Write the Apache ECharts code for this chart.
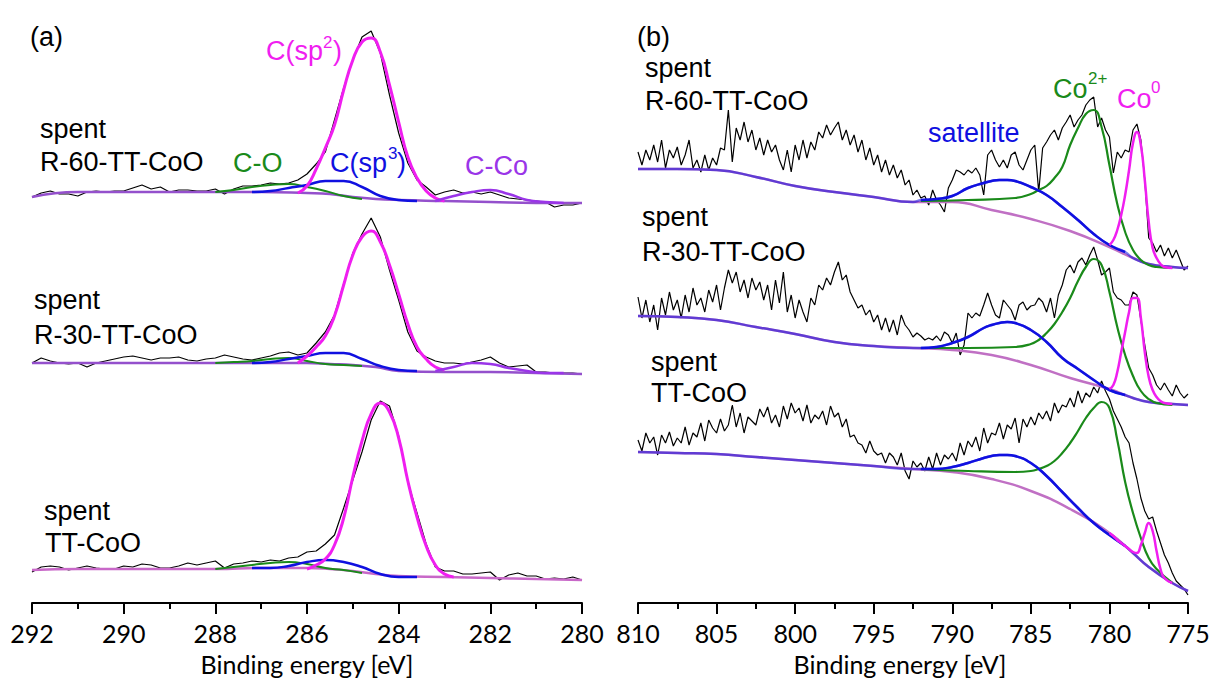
<!DOCTYPE html>
<html>
<head>
<meta charset="utf-8">
<script src="https://cdn.jsdelivr.net/npm/echarts@6/dist/echarts.min.js"></script>
<style>
  html, body { margin: 0; padding: 0; background: #fff; }
  #chart { width: 1216px; height: 687px; }
</style>
</head>
<body>
<div id="chart"></div>
<script>
// ---- (a) C 1s : measured spectra, 292 -> 280 eV, 0.2 eV steps ----
const c1sStart = 292, c1sStep = 0.2;
const c1sR60 = [406,410,412,409,409,407,411,412,411,412, 412,415,418,414,416,411,413,413,412,412,
  414,409,414,417,417,418,420,419,420,423, 429,439,451,483,515,543,566,572,550,508,
  470,440,423,416,408,411,413,410,411,409, 411,408,405,404,403,402,401,396,398,398,400];
const c1sR30 = [240,245,242,240,239,240,236,240,242,244, 246,247,245,243,245,245,246,243,242,244,
  245,248,246,244,243,245,247,250,251,248, 250,260,271,288,319,350,369,385,366,333,
  303,271,252,246,242,240,240,239,241,243, 246,240,236,237,238,231,231,230,230,230,229];
const c1sTT = [31,36,37,36,33,35,37,35,34,34, 37,36,39,38,35,35,37,40,38,40,
  42,35,39,40,42,41,43,42,45,46, 51,52,59,68,95,123,151,183,202,197,
  167,121,90,59,36,32,32,29,29,30, 31,23,28,30,27,27,24,25,24,26,23];

// background (Shirley) for C 1s
const c1sBgE = [292,291,290,289,288,287,286,285.5,285,284.5,284,283,282,281,280];
const c1sBgR60 = [406,411,411,411,411,411,410,409,406,404,403,402,401,400,400];
const c1sBgR30 = [240,240,240,240,240,240,240,239,238,236,232,231,231,230,229];
const c1sBgTT = [33,34,34,34,34,35,35,34,32,29,27,26,25,24,23];

// fitted components (component + background)
const sp2E = [286.2,286.0,285.8,285.6,285.4,285.2,285.0,284.8,284.6,284.4,284.2,284.0,283.8,283.6,283.4,283.2,283.0];
const sp2R60 = [410,417,434,455,478,513,543,561,565,551,518,481,446,425,412,405,402];
const sp2R30 = [240,247,256,267,287,318,348,366,372,361,338,309,279,256,244,236,233];
const sp2EtT = [286.0,285.8,285.6,285.4,285.2,285.0,284.8,284.6,284.4,284.2,284.0,283.8,283.6,283.4,283.2,283.0,282.8];
const sp2TT = [34,38,44,58,85,126,162,189,200,191,165,122,86,57,38,29,26];

const sp3E = [287.2,286.8,286.4,286.0,285.6,285.2,284.8,284.4,284.0,283.6];
const sp3R60 = [411,412,415,418,422,422,416,407,403,402];
const sp3R30 = [240,241,244,247,250,250,244,237,233,232];
const sp3TT = [35,35,37,41,43,41,36,29,26,26];

const coE = [288.0,287.6,287.2,286.8,286.4,286.0,285.6,285.2,284.8];
const coR60 = [411,413,416,418,419,416,412,407,404];
const coR30 = [240,241,242,244,245,242,239,238,237];
const coTT = [34,36,38,40,41,39,35,33,30];

const ccoE = [283.2,282.8,282.4,282.0,281.6,281.2,280.8,280.4];
const ccoR60 = [402,407,411,413,409,403,401,400];
const ccoR30 = [232,236,240,239,235,232,230,230];

// ---- (b) Co 2p : measured spectra, 810 -> 775 eV, 0.25 eV steps ----
const co2pStart = 810, co2pStep = 0.25;
const co2pR60 = [451,438,453,443,458,441,463,435,453,445, 456,438,448,463,435,443,431,448,433,445,
  438,455,453,493,441,475,463,481,461,473, 453,465,448,463,451,458,443,433,453,431,
  458,443,463,445,461,453,471,465,478,468, 475,481,463,473,458,468,451,463,443,455,
  438,448,431,443,428,438,425,433,418,423, 408,413,405,407,398,413,403,398,391,415,
  423,433,431,428,433,430,435,428,408,448, 453,443,436,443,435,448,451,438,433,443,
  453,458,411,455,461,468,473,463,475,481, 488,476,483,488,498,503,506,476,485,473,
  466,430,451,445,453,451,473,479,463,423, 365,360,351,358,347,355,345,353,343,333,337];
const co2pR30 = [306,285,303,281,298,273,305,288,311,293, 303,285,308,291,315,298,305,291,313,301,
  318,293,315,333,320,331,311,323,305,325, 313,321,303,318,293,323,300,331,291,308,
  285,303,291,281,305,298,318,313,325,318, 331,341,323,328,311,303,295,298,288,293,
  281,288,273,285,271,283,268,288,278,273, 266,270,267,263,265,263,267,262,271,268,
  260,270,248,258,290,285,290,287,298,310, 298,288,285,303,298,293,283,298,301,293,
  297,298,305,301,291,305,285,308,318,333, 338,330,341,345,338,348,356,343,328,331,
  335,311,305,303,298,298,311,308,283,258, 235,228,218,213,220,213,207,218,210,205,209];
const co2pTT = [163,152,170,160,166,148,168,160,171,157, 165,160,176,158,170,166,180,162,183,175,
  170,184,172,178,198,176,190,170,186,182, 178,194,186,196,180,188,176,197,184,200,
  190,195,182,198,180,188,184,192,178,197, 186,190,176,184,166,168,160,158,150,162,
  152,148,150,140,150,146,138,150,132,124, 142,136,140,132,146,134,150,138,148,144,
  150,142,160,148,162,156,166,152,175,160, 170,168,180,164,178,174,185,160,184,176,
  186,178,190,184,192,182,200,190,198,196, 205,196,212,200,210,206,216,210,222,212,
  204,192,184,176,166,160,140,124,105,92, 84,86,72,60,48,40,30,22,18,14,8];

const co2pBgE = [810,807.5,805,802.5,800,797.5,795,792.5,790,787.5,785,782.5,780,778.5,777.5,776,775];
const co2pBgR60 = [434,434,433,426,417,411,406,401,401,393,384,372,356,345,339,336,335];
const co2pBgR30 = [287,286,283,276,269,261,257,255,253,248,238,225,214,205,201,199,198];
const co2pBgTT = [151,150,149,146,143,140,137,134,131,124,112,94,70,50,36,20,12];

const satE = [792,791,790,789,788,787.5,787,786.5,786,785,784,783,782,781,780,779];
const satR60 = [403,404,407,415,420,422,423,423,422,416,408,396,383,369,358,351];
const satR30 = [255,256,260,266,275,278,280,281,280,273,261,245,234,223,213,208];
const satTT = [134,134,136,140,145,147,148,148,147,140,127,111,95,80,68,57];

const co2E = [792,789,786,785,784.5,784,783.5,783,782.5,782,781.5,781,780.5,780,779.5,779,778.5,778,777.5,777,776];
const co2R60 = [402,403,405,409,413,417,425,436,458,475,489,493,476,438,399,371,353,343,338,336,335];
const co2R30 = [255,255,256,259,263,270,279,291,305,322,336,344,338,311,276,248,227,212,204,200,198];
const co2TT = [134,132,131,132,134,137,142,150,160,172,185,195,201,195,163,121,90,65,45,34,20];

const co0E = [780,779.75,779.5,779.25,779,778.75,778.5,778.25,778,777.75,777.5,777.25,777,776.75,776.5,776];
const co0R60 = [358,363,373,388,408,433,460,471,458,423,381,355,345,339,336,335];
const co0R30 = [214,218,231,251,271,291,305,305,285,251,226,213,206,202,200,199];
const co0TT = [70,67,63,60,57,54,51,50,58,70,80,72,52,34,25,20];

const tickFont = "Lato";
const textFont = "Liberation Sans";

function zip(es, vs) {
  return vs.map((v, i) => [es[i], v]);
}
function stepped(start, step, vs) {
  return vs.map((v, i) => [+(start - i * step).toFixed(2), v]);
}
// satellite curve continues along the background outside its own range
function alongBg(bgE, bg, es, vs) {
  const lo = Math.min(...es), hi = Math.max(...es);
  const before = zip(bgE, bg).filter(p => p[0] > hi);
  const after = zip(bgE, bg).filter(p => p[0] < lo);
  return before.concat(zip(es, vs), after);
}

const series = [];
function add(gi, data, color, width, smooth, z, opacity) {
  series.push({
    type: "line",
    xAxisIndex: gi,
    yAxisIndex: gi,
    data: data,
    showSymbol: false,
    smooth: smooth,
    z: z,
    silent: true,
    lineStyle: { color: color, width: width, opacity: opacity || 1 }
  });
}

const MAG = "#f01ef0", BLUE = "#1010e0", GREEN = "#1a8a1a", PURPLE = "#9a35e8";

// panel (a)
[[c1sR60, c1sBgR60, "#9450cc"], [c1sR30, c1sBgR30, "#9450cc"], [c1sTT, c1sBgTT, "#c868c8"]].forEach(s => {
  add(0, stepped(c1sStart, c1sStep, s[0]), "#000", 1.2, false, 2);
  add(0, zip(c1sBgE, s[1]), s[2], 2.5, true, 3);
});
add(0, zip(coE, coR60), GREEN, 2, true, 4);
add(0, zip(coE, coR30), GREEN, 2, true, 4);
add(0, zip(coE, coTT), GREEN, 2, true, 4);
add(0, zip(sp3E, sp3R60), BLUE, 2.5, true, 5);
add(0, zip(sp3E, sp3R30), BLUE, 2.5, true, 5);
add(0, zip(sp3E, sp3TT), BLUE, 2.5, true, 5);
add(0, zip(sp2E, sp2R60), MAG, 3, true, 6);
add(0, zip(sp2E, sp2R30), MAG, 3, true, 6);
add(0, zip(sp2EtT, sp2TT), MAG, 3, true, 6);
add(0, zip(ccoE, ccoR60), PURPLE, 2.5, true, 7);
add(0, zip(ccoE, ccoR30), PURPLE, 2.5, true, 7);

// panel (b)
[[co2pR60, co2pBgR60, satR60, co2R60, co0R60],
 [co2pR30, co2pBgR30, satR30, co2R30, co0R30],
 [co2pTT, co2pBgTT, satTT, co2TT, co0TT]].forEach(s => {
  add(1, stepped(co2pStart, co2pStep, s[0]), "#000", 1.2, false, 2);
  add(1, zip(co2pBgE, s[1]), "#c070c4", 2.5, true, 3);
  add(1, alongBg(co2pBgE, s[1], satE, s[2]), BLUE, 2.5, true, 4, 0.55);
  add(1, zip(co2E, s[3]), GREEN, 2.2, true, 5);
  add(1, zip(satE, s[2]), BLUE, 2.5, true, 6);
  add(1, zip(co0E, s[4]), MAG, 2.5, true, 7);
});

function xAxis(gi, min, max, interval) {
  return {
    gridIndex: gi,
    type: "value",
    inverse: true,
    min: min,
    max: max,
    interval: interval,
    name: "Binding energy [eV]",
    nameLocation: "middle",
    nameGap: 48,
    nameTextStyle: { fontFamily: tickFont, fontSize: 25, color: "#000",
      padding: gi === 1 ? [0, 26, 0, 0] : 0 },
    axisLine: { lineStyle: { color: "#000", width: 2 } },
    axisTick: { length: 11, lineStyle: { color: "#000", width: 2 } },
    minorTick: { show: true, splitNumber: 2, length: 6, lineStyle: { color: "#000", width: 2 } },
    splitLine: { show: false },
    axisLabel: { fontFamily: tickFont, fontSize: 25, color: "#000", margin: 17 }
  };
}

function txt(x, y, text, color, size) {
  return {
    type: "text",
    x: x,
    y: y,
    silent: true,
    style: {
      text: text,
      fill: color || "#000",
      fontFamily: textFont,
      fontSize: size || 27,
      textAlign: "left",
      textVerticalAlign: "middle",
      align: "left",
      verticalAlign: "middle"
    }
  };
}

const labels = [
  txt(30, 37, "(a)"),
  txt(40, 129, "spent"), txt(40, 162, "R-60-TT-CoO"),
  txt(34, 300, "spent"), txt(34, 335, "R-30-TT-CoO"),
  txt(44, 511, "spent"), txt(45, 543, "TT-CoO"),
  txt(266, 51, "C(sp", MAG), txt(323, 42, "2", MAG, 17), txt(333, 51, ")", MAG),
  txt(233, 163, "C-O", GREEN),
  txt(330, 163, "C(sp", BLUE), txt(388, 153, "3", BLUE, 17), txt(397, 163, ")", BLUE),
  txt(465, 166, "C-Co", PURPLE),
  txt(637, 37, "(b)"),
  txt(645, 68, "spent"), txt(645, 101, "R-60-TT-CoO"),
  txt(642, 217, "spent"), txt(642, 252, "R-30-TT-CoO"),
  txt(651, 362, "spent"), txt(651, 393, "TT-CoO"),
  txt(928, 133, "satellite", BLUE),
  txt(1053, 89, "Co", GREEN), txt(1088, 78, "2+", GREEN, 17),
  txt(1117, 99, "Co", MAG), txt(1151, 87, "0", MAG, 17)
];

const chart = echarts.init(document.getElementById("chart"), null, { renderer: "svg" });
chart.setOption({
  animation: false,
  backgroundColor: "#fff",
  grid: [
    { left: 32, right: 634, top: 3, bottom: 84 },
    { left: 638, right: 28, top: 3, bottom: 84 }
  ],
  xAxis: [xAxis(0, 280, 292, 2), xAxis(1, 775, 810, 5)],
  yAxis: [
    { gridIndex: 0, type: "value", min: 0, max: 600, show: false },
    { gridIndex: 1, type: "value", min: 0, max: 600, show: false }
  ],
  graphic: labels,
  series: series
});
</script>
</body>
</html>
